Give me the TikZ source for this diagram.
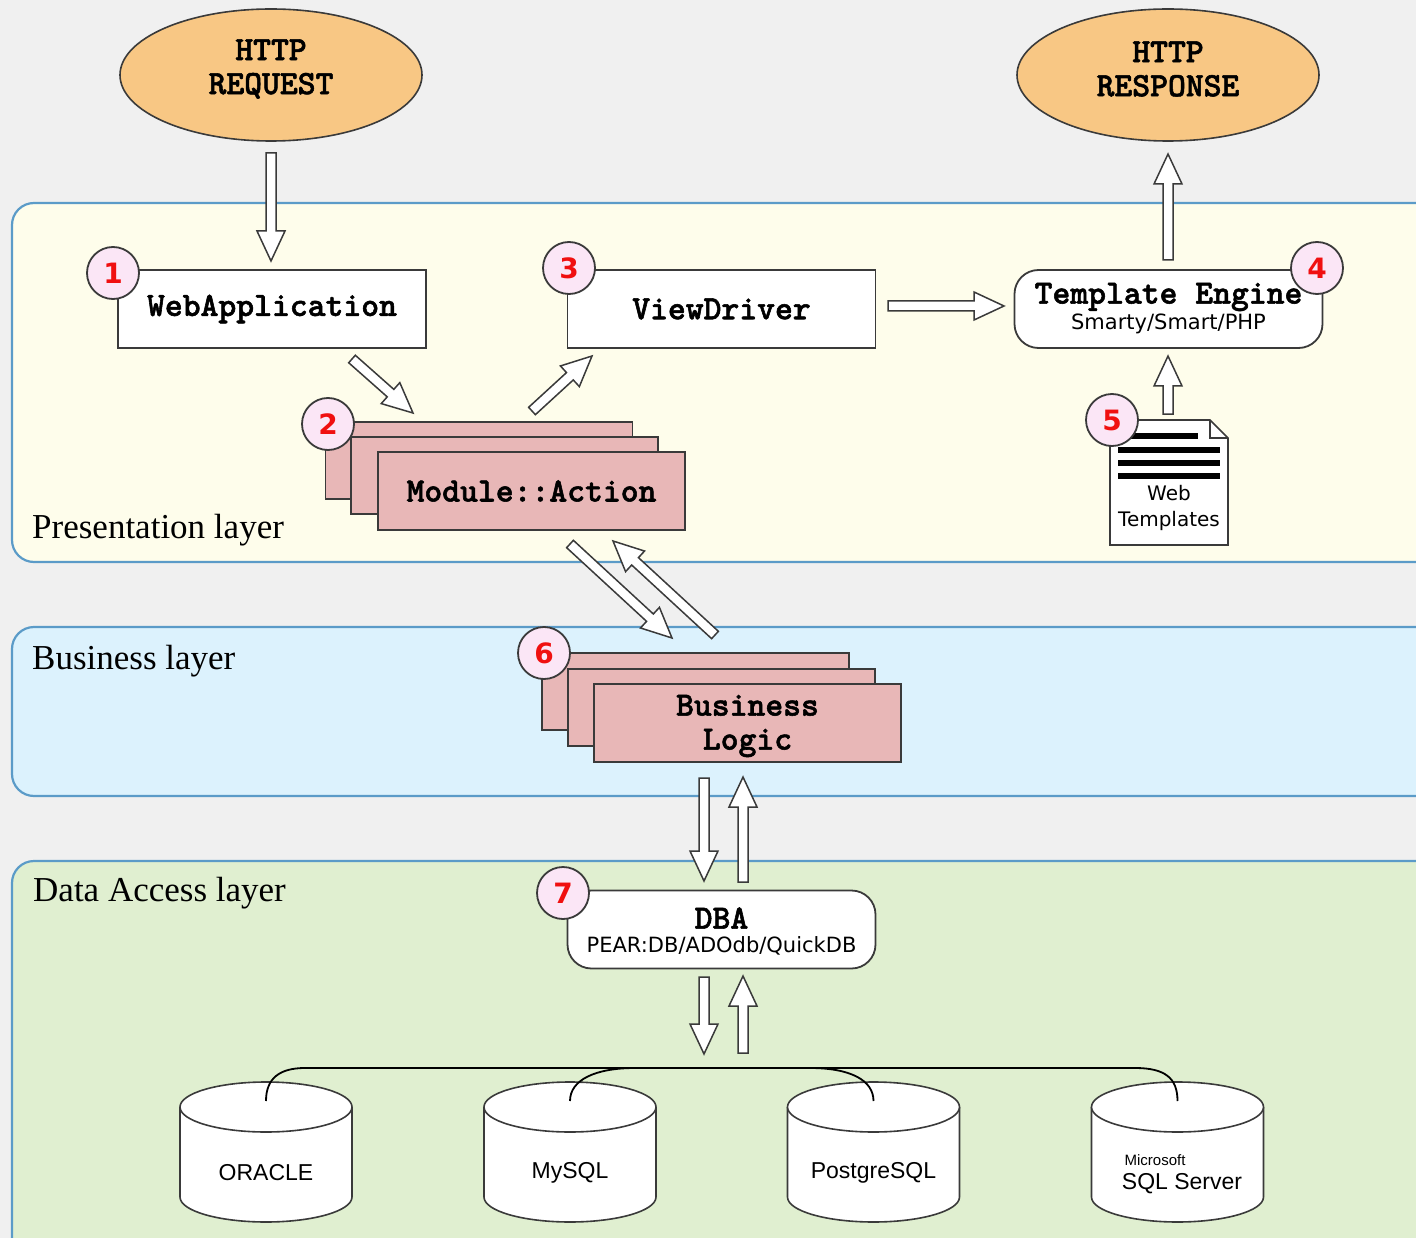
\documentclass[tikz,border=0pt]{standalone}
\usepackage{fontspec}
\setmainfont{Liberation Serif}
\newfontfamily\monob{lmmonolt10-bold.otf}[FakeBold=1.6]
\newfontfamily\dvs{DejaVu Sans}
\newfontfamily\lsans{Liberation Sans}
\usetikzlibrary{calc,shapes.geometric}

\definecolor{bgc}{HTML}{F0F0F0}
\definecolor{presfill}{HTML}{FEFDEB}
\definecolor{busfill}{HTML}{DCF2FD}
\definecolor{datafill}{HTML}{E0EFD0}
\definecolor{layerline}{HTML}{5B9BC8}
\definecolor{orangefill}{HTML}{F8C784}
\definecolor{pinkfill}{HTML}{E8B7B7}
\definecolor{badgefill}{HTML}{FBE6F6}
\definecolor{badgered}{HTML}{F01010}
\definecolor{boxline}{HTML}{3A3A3A}

\tikzset{
  layerband/.style={draw=layerline, line width=2.2pt, rounded corners=22pt},
  layerlabel/.style={anchor=base west, inner sep=0pt, font=\fontsize{35}{40}\selectfont},
  whitebox/.style={draw=boxline, line width=1.8pt, fill=white, minimum width=308pt, minimum height=78pt, inner sep=0pt, font=\monob\fontsize{34}{36}\selectfont},
  card/.style={draw=boxline, line width=1.8pt, fill=pinkfill, minimum width=307pt, minimum height=77pt, inner sep=0pt},
  monotext/.style={inner sep=0pt, font=\monob\fontsize{34}{34}\selectfont, align=center},
  sanstext/.style={inner sep=0pt, font=\dvs\fontsize{21}{25}\selectfont, align=center},
  badge/.style={circle, draw=boxline, line width=1.8pt, fill=badgefill, minimum size=52pt, inner sep=0pt, text=badgered, font=\dvs\bfseries\fontsize{28}{30}\selectfont},
  httpell/.style={ellipse, draw=boxline, line width=1.6pt, fill=orangefill, minimum width=302pt, minimum height=132pt, inner sep=0pt},
  dbtext/.style={inner sep=0pt, font=\lsans\fontsize{23}{26}\selectfont},
  busline/.style={draw=black, line width=1.8pt},
  cylline/.style={draw=boxline, line width=1.6pt, fill=white}
}

\newcommand\blockarrow[2]{%
  \path[draw=boxline, fill=white, line width=1.5pt, line join=miter]
    let \p1=($(#2)-(#1)$), \n1={atan2(\y1,\x1)}, \n2={veclen(\x1,\y1)} in
    ($(#1)+(\n1+90:5pt)$) -- ++(\n1:{(\n2-30)*1pt}) -- ++(\n1+90:9pt) -- (#2)
    -- ($(#2)+(\n1+180:30pt)+(\n1-90:14pt)$) -- ++(\n1+90:9pt)
    -- ++(\n1+180:{(\n2-30)*1pt}) -- cycle;}

\newcommand\dbcyl[1]{%
  \path[cylline] ({#1-86},1107) -- ({#1-86},1197)
    .. controls ({#1-86},1211) and ({#1-47},1222) .. (#1,1222)
    .. controls ({#1+47},1222) and ({#1+86},1211) .. ({#1+86},1197)
    -- ({#1+86},1107);
  \path[cylline] (#1,1107) ellipse [x radius=86, y radius=25];}

\begin{document}
\begin{tikzpicture}[x=1pt, y=-1pt]
\useasboundingbox (0,0) rectangle (1416,1238);
\clip (0,0) rectangle (1416,1238);
\fill[bgc] (0,0) rectangle (1416,1238);

% layers
\path[layerband, fill=presfill] (12,203) rectangle (1450,562);
\path[layerband, fill=busfill] (12,627) rectangle (1450,796);
\path[layerband, fill=datafill] (12,861) rectangle (1450,1290);
\node[layerlabel] (lpres) at (32,538) {Presentation layer};
\node[layerlabel] (lbus) at (32,669) {Business layer};
\node[layerlabel] (ldata) at (33,901) {Data Access layer};

% HTTP ellipses
\node[httpell] (req) at (271,75) {};
\node[monotext] (reqt) at (271,69) {HTTP\\REQUEST};
\node[httpell] (resp) at (1168,75) {};
\node[monotext] (respt) at (1168,69) {HTTP\\RESPONSE};

% presentation boxes
\node[whitebox] (wa) at (272,309) {WebApplication};
\node[whitebox] (vd) at (721.5,309) {ViewDriver};
\node[whitebox, rounded corners=24pt] (te) at (1168.5,309) {};
\node[monotext] (tet) at (1168.5,297) {Template Engine};
\node[sanstext] (tes) at (1168.5,324) {Smarty/Smart/PHP};

% Module::Action stack
\node[card] (ma3) at (479,460.5) {};
\node[card] (ma2) at (504.5,475.5) {};
\node[card, minimum height=78pt] (ma1) at (531.5,491) {};
\node[monotext] (mat) at (531.5,491) {Module::Action};

% Web templates document
\path[draw=boxline, line width=1.6pt, fill=white] (1110,420) -- (1210,420) -- (1228,438) -- (1228,545) -- (1110,545) -- cycle;
\draw[boxline, line width=1.4pt] (1210,420) -- (1210,438) -- (1228,438);
\foreach \yy/\xs/\xe in {436/1122/1198, 450/1118/1220, 463/1118/1220, 476/1118/1220}
  \fill[black] (\xs,\yy-2.6) rectangle (\xe,\yy+2.6);
\node[inner sep=0pt, font=\dvs\fontsize{20}{26}\selectfont, align=center] (wt) at (1169,508) {Web\\Templates};

% Business logic stack
\node[card] (bl3) at (695.5,691.5) {};
\node[card] (bl2) at (721.5,707.5) {};
\node[card, minimum height=78pt] (bl1) at (747.5,723) {};
\node[monotext] (blt) at (747.5,726) {Business\\Logic};

% DBA
\node[whitebox, rounded corners=24pt] (dba) at (721.5,929.5) {};
\node[monotext] (dbat) at (721.5,918) {DBA};
\node[sanstext] (dbas) at (721.5,946) {PEAR:DB/ADOdb/QuickDB};

% databases
\dbcyl{266}
\dbcyl{570}
\dbcyl{873.5}
\dbcyl{1177.5}
\node[dbtext] (ora) at (266,1173) {ORACLE};
\node[dbtext] (mys) at (570,1173) {MySQL};
\node[dbtext] (pgs) at (873.5,1173) {PostgreSQL};
\node[inner sep=0pt, font=\lsans\fontsize{15}{17}\selectfont] (mss1) at (1155,1160) {Microsoft};
\node[dbtext] (mss) at (1182,1184) {SQL Server};

% bus
\coordinate (ora-top) at (266,1101);
\coordinate (mys-top) at (570,1101);
\coordinate (pgs-top) at (873.5,1101);
\coordinate (mss-top) at (1177.5,1101);
\coordinate (busL) at (305,1068);
\coordinate (busR) at (1135,1068);
\coordinate (busM1) at (635,1068);
\coordinate (busM2) at (810,1068);
\draw[busline] (ora-top) .. controls (266,1078) and (280,1068) .. (busL) -- (busR) .. controls (1165,1068) and (1177.5,1078) .. (mss-top);
\draw[busline] (mys-top) .. controls (570,1080) and (595,1068) .. (busM1);
\draw[busline] (pgs-top) .. controls (873.5,1080) and (850,1068) .. (busM2);

% badges
\node[badge] (b1) at (113,273) {1};
\node[badge] (b2) at (328,424) {2};
\node[badge] (b3) at (569,268) {3};
\node[badge] (b4) at (1317,268) {4};
\node[badge] (b5) at (1112,420) {5};
\node[badge] (b6) at (544,653) {6};
\node[badge] (b7) at (563,893) {7};

% arrow end points
\coordinate (a1s) at (271,153);  \coordinate (a1e) at (271,261);
\coordinate (a2s) at (352,359);  \coordinate (a2e) at (413,413);
\coordinate (a3s) at (532,411);  \coordinate (a3e) at (592,356);
\coordinate (a4s) at (888,306);  \coordinate (a4e) at (1004,306);
\coordinate (a5s) at (1168,260); \coordinate (a5e) at (1168,154);
\coordinate (a6s) at (1168,414); \coordinate (a6e) at (1168,356);
\coordinate (a7s) at (570,544);  \coordinate (a7e) at (672,638);
\coordinate (a8s) at (715,635);  \coordinate (a8e) at (613,541);
\coordinate (a9s) at (704,778);  \coordinate (a9e) at (704,881);
\coordinate (a10s) at (743,882); \coordinate (a10e) at (743,777);
\coordinate (a11s) at (704,977); \coordinate (a11e) at (704,1054);
\coordinate (a12s) at (743,1053); \coordinate (a12e) at (743,976);

\blockarrow{a1s}{a1e}
\blockarrow{a2s}{a2e}
\blockarrow{a3s}{a3e}
\blockarrow{a4s}{a4e}
\blockarrow{a5s}{a5e}
\blockarrow{a6s}{a6e}
\blockarrow{a7s}{a7e}
\blockarrow{a8s}{a8e}
\blockarrow{a9s}{a9e}
\blockarrow{a10s}{a10e}
\blockarrow{a11s}{a11e}
\blockarrow{a12s}{a12e}
\end{tikzpicture}
\end{document}
